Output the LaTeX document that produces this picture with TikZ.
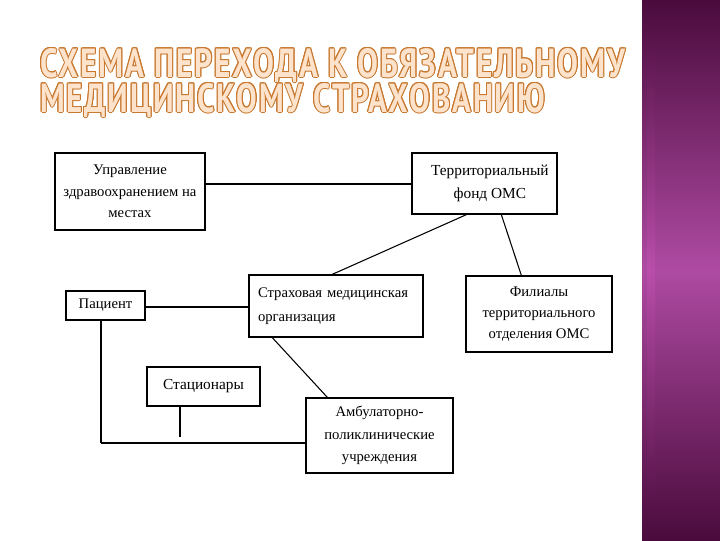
\documentclass[tikz,border=0pt]{standalone}
\usepackage{fontspec}
\setmainfont{Liberation Serif}
\newfontfamily\titlefont[LetterSpace=6]{PT Sans}
\usetikzlibrary{calc}
\definecolor{titleline}{HTML}{C8782F}
\definecolor{titlefill}{HTML}{FDE3CC}
\definecolor{bandtop}{HTML}{4A0B3C}
\definecolor{bandmid}{HTML}{AE4AA2}
\definecolor{stripmid}{HTML}{BE50AE}
\newcommand\titleA{СХЕМА ПЕРЕХОДА К ОБЯЗАТЕЛЬНОМУ}
\newcommand\titleB{МЕДИЦИНСКОМУ СТРАХОВАНИЮ}
\tikzset{
  box/.style={draw=black, line width=1pt, fill=white, inner sep=0pt, align=center,
    font=\fontsize{11}{16}\selectfont},
  link/.style={draw=black, line width=0.8pt},
  ttl/.style={anchor=base west, inner sep=0pt, outer sep=0pt}
}
\begin{document}
\begin{tikzpicture}[x=0.75pt, y=-0.75pt]
\useasboundingbox (0,0) rectangle (720,540);
\fill[white] (0,0) rectangle (720,540);
% purple band
\shade[top color=bandtop, bottom color=bandtop, middle color=bandmid] (642,0) rectangle (720,540);
\shade[top color=bandtop, bottom color=bandtop, middle color=stripmid, opacity=0.7] (647,0) rectangle (655,540);
% title: outline drawn as offset copies, fill on top
\foreach \a [count=\i] in {0,30,...,330}{
  \node[ttl, text=titleline] (ta\i) at ($(40,77)+(\a:1)$) {\resizebox{438.75pt}{21.75pt}{\titlefont\bfseries\titleA}};
  \node[ttl, text=titleline] (tb\i) at ($(40,112)+(\a:1)$) {\resizebox{378.75pt}{21.75pt}{\titlefont\bfseries\titleB}};
}
\node[ttl, text=titlefill] (ta) at (40,77) {\resizebox{438.75pt}{21.75pt}{\titlefont\bfseries\titleA}};
\node[ttl, text=titlefill] (tb) at (40,112) {\resizebox{378.75pt}{21.75pt}{\titlefont\bfseries\titleB}};
% boxes
\node[box, minimum width=112.5pt, minimum height=57.75pt, text depth=-3pt] (upr) at (130,191.5) {Управление\\здравоохранением на\\местах};
\node[box, minimum width=108.75pt, minimum height=45.75pt, font=\fontsize{11.5}{17}\selectfont] (fond) at (484.5,183.5) {\hspace*{8pt}Территориальный\\\hspace*{8pt}фонд ОМС};
\node[box, minimum width=59.25pt, minimum height=21.75pt] (pac) at (105.5,305.5) {\raisebox{-2pt}{Пациент}};
\node[box, minimum width=130.5pt, minimum height=46.5pt, text width=117pt, inner xsep=6.75pt, align=left,
  font=\fontsize{11}{18}\selectfont] (strah) at (336,306) {Страховая медицинская\\организация};
\node[box, minimum width=109.5pt, minimum height=57pt] (fil) at (539,314) {Филиалы\\территориального\\отделения ОМС};
\node[box, minimum width=84.75pt, minimum height=29.25pt, font=\fontsize{11.5}{16}\selectfont] (stac) at (203.5,386.5) {Стационары};
\node[box, minimum width=110.25pt, minimum height=56.25pt, font=\fontsize{11}{17}\selectfont] (amb) at (379.5,435.5) {Амбулаторно-\\поликлинические\\учреждения};
% connectors
\draw[link] (upr.east |- 0,184) -- (fond.west |- 0,184);
\draw[link] ($(fond.south west)+(55,0)$) -- ($(strah.north west)+(84,0)$);
\draw[link] ($(fond.south west)+(90,0)$) -- ($(fil.north west)+(56,0)$);
\draw[link] (pac.east |- 0,307) -- (strah.west |- 0,307);
\draw[link] ($(strah.south west)+(24,0)$) -- ($(amb.north west)+(22,0)$);
\coordinate (corner) at (101,443);
\coordinate (thickend) at (161,443);
\coordinate (stacend) at (180,437);
\draw[link] (pac.south -| corner) -- (corner);
\draw[black, line width=1.8pt] (corner) -- (thickend);
\draw[link] (thickend) -- (amb.west |- thickend);
\draw[link] (stac.south -| stacend) -- (stacend);
\end{tikzpicture}
\end{document}
